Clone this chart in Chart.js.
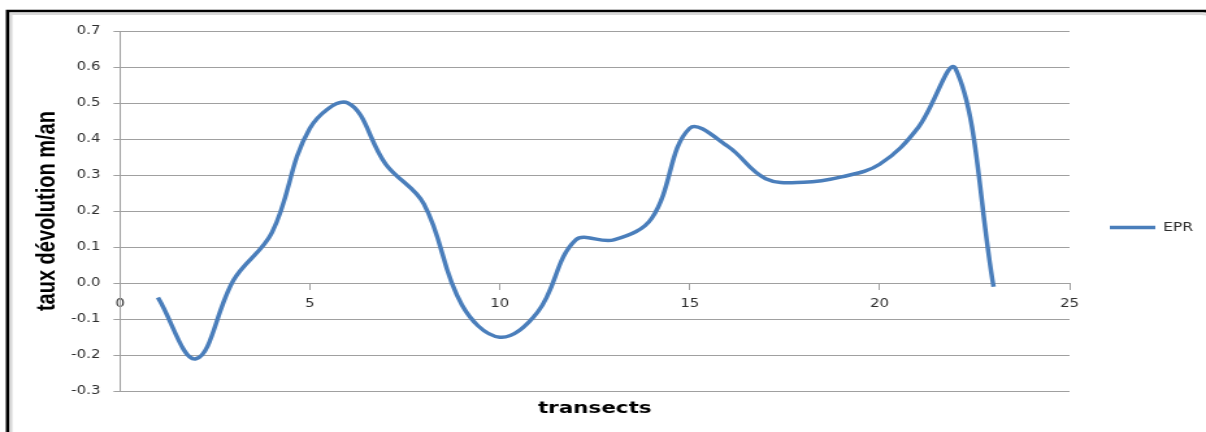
<!DOCTYPE html>
<html>
<head>
<meta charset="utf-8">
<script src="https://cdn.jsdelivr.net/npm/chart.js@4.4.1/dist/chart.umd.min.js"></script>
<style>
  html, body { margin: 0; padding: 0; background: #fff; }
  /* the canvas is drawn narrower and stretched wide, like the exported Excel picture */
  #eprChart { display: block; width: 1206px; height: 432px; }
</style>
</head>
<body>
<canvas id="eprChart" width="928" height="432" style="width:1206px;height:432px"></canvas>
<script>
// Transects et taux d'évolution EPR (m/an)
const transects = [1, 2, 3, 4, 5, 6, 7, 8, 9, 10, 11, 12, 13, 14, 15, 16, 17, 18, 19, 20, 21, 22, 23];
const epr = [-0.04, -0.21, 0.01, 0.14, 0.43, 0.50, 0.33, 0.22, -0.06, -0.15, -0.08, 0.12,
             0.12, 0.18, 0.43, 0.38, 0.29, 0.28, 0.295, 0.33, 0.43, 0.595, -0.01];
const seriesName = 'EPR';
const xTitle = 'transects';
const yTitle = 'taux dévolution m/an';

const GRID = '#a0a0a0';
const BLUE = '#4a7ebb';
const TICK_COLOR = '#2e2e2e';

Chart.defaults.font.family = 'DejaVu Sans';

// cadre noir autour du graphique (coin droit hors de l'image)
const framePlugin = {
  id: 'frame',
  beforeDraw(chart) {
    const ctx = chart.ctx;
    const w = chart.width, h = chart.height;
    ctx.save();
    ctx.strokeStyle = '#d8d8d8';
    ctx.lineWidth = 2;
    ctx.beginPath();
    ctx.moveTo(8.5, h + 5);
    ctx.lineTo(8.5, 14);
    ctx.arcTo(w + 10, 14, w + 10, h, 14);
    ctx.stroke();
    ctx.strokeStyle = '#000';
    ctx.lineWidth = 2.6;
    ctx.beginPath();
    ctx.moveTo(5.8, h + 5);
    ctx.lineTo(5.8, 11);
    ctx.arcTo(w + 12, 11, w + 12, h, 14);
    ctx.stroke();
    ctx.restore();
  }
};

const ctx = document.getElementById('eprChart');
const myChart = new Chart(ctx, {
  type: 'line',
  data: {
    datasets: [{
      label: seriesName,
      data: transects.map((t, i) => ({ x: t, y: epr[i] })),
      borderColor: BLUE,
      backgroundColor: BLUE,
      borderWidth: 3.5,
      pointRadius: 0,
      tension: 0.38,
      fill: false
    }]
  },
  options: {
    responsive: false,
    animation: false,
    layout: { padding: { top: 31, bottom: 8, left: 0, right: 0 } },
    plugins: {
      tooltip: { enabled: false },
      legend: {
        position: 'right',
        maxWidth: 105,
        labels: {
          usePointStyle: true,
          pointStyle: 'line',
          pointStyleWidth: 35,
          padding: 31,
          color: TICK_COLOR,
          font: { size: 12 }
        }
      }
    },
    scales: {
      x: {
        type: 'linear',
        position: { y: 0 },
        min: 0,
        max: 25,
        ticks: {
          stepSize: 5,
          padding: 8,
          color: TICK_COLOR,
          font: { size: 11.5 },
          maxRotation: 0,
          autoSkip: false
        },
        grid: { drawOnChartArea: false, drawTicks: true, tickLength: 6, color: GRID },
        border: { color: GRID }
      },
      // axe du bas, sert seulement au titre
      x2: {
        type: 'linear',
        position: 'bottom',
        min: 0,
        max: 25,
        ticks: { display: false },
        grid: { display: false, drawTicks: false },
        border: { display: false },
        title: {
          display: true,
          text: xTitle,
          color: '#000',
          font: { size: 16.5, weight: 'bold' },
          padding: { top: 8, bottom: 5 }
        }
      },
      y: {
        min: -0.3,
        max: 0.7,
        ticks: {
          stepSize: 0.1,
          padding: 10,
          color: TICK_COLOR,
          font: { size: 11.5 },
          callback: (v) => v.toFixed(1)
        },
        grid: { color: GRID, tickLength: 5 },
        border: { color: GRID },
        title: {
          display: true,
          text: yTitle,
          color: '#000',
          font: { family: 'Liberation Sans', size: 20, weight: 'bold' },
          padding: { top: 24, bottom: 0 }
        },
        afterFit: (scale) => { scale.width = 92.3; }
      }
    }
  },
  plugins: [framePlugin]
});
</script>
</body>
</html>
